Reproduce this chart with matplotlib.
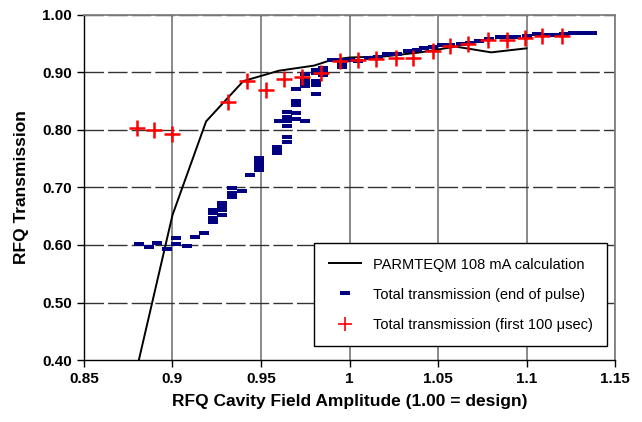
import matplotlib.pyplot as plt
import numpy as np

plt.rcParams['font.family'] = ['Liberation Sans', 'DejaVu Sans']

# PARMTEQM calculation curve
calc_x = [0.881, 0.90, 0.919, 0.94, 0.96, 0.98, 0.99, 1.0, 1.02, 1.04, 1.06, 1.08, 1.10]
calc_y = [0.40, 0.652, 0.815, 0.885, 0.903, 0.912, 0.922, 0.926, 0.928, 0.935, 0.945, 0.935, 0.942]

# Total transmission (end of pulse)
end_x = [0.881, 0.887, 0.891, 0.897, 0.902, 0.902, 0.908, 0.913, 0.918,
         0.923, 0.923, 0.923, 0.923, 0.928, 0.928, 0.928, 0.928,
         0.9335, 0.9335, 0.9335, 0.939, 0.944, 0.949, 0.949, 0.949, 0.949,
         0.959, 0.959, 0.959, 0.960, 0.9645, 0.9645, 0.9645, 0.9645, 0.9645, 0.9645,
         0.970, 0.970, 0.970, 0.970, 0.970, 0.975, 0.975, 0.975, 0.975, 0.975,
         0.981, 0.981, 0.981, 0.981, 0.981, 0.985, 0.985, 0.985,
         0.990, 0.996, 0.996, 0.996, 1.000, 1.005, 1.011, 1.016, 1.021, 1.027,
         1.033, 1.038, 1.042, 1.047, 1.052, 1.057, 1.063, 1.068, 1.073, 1.079,
         1.085, 1.090, 1.094, 1.100, 1.106, 1.111, 1.116, 1.121, 1.126, 1.132, 1.137]
end_y = [0.602, 0.597, 0.603, 0.593, 0.602, 0.612, 0.598, 0.614, 0.621,
         0.640, 0.647, 0.655, 0.660, 0.652, 0.660, 0.667, 0.673,
         0.683, 0.690, 0.699, 0.694, 0.722, 0.730, 0.737, 0.745, 0.752,
         0.760, 0.765, 0.770, 0.816, 0.779, 0.787, 0.807, 0.815, 0.823, 0.831,
         0.819, 0.830, 0.844, 0.850, 0.871, 0.816, 0.876, 0.882, 0.887, 0.897,
         0.862, 0.878, 0.885, 0.899, 0.904, 0.896, 0.902, 0.908,
         0.922, 0.910, 0.916, 0.922, 0.922, 0.920, 0.925, 0.927, 0.932, 0.933,
         0.937, 0.939, 0.942, 0.945, 0.948, 0.948, 0.950, 0.952, 0.955, 0.958,
         0.962, 0.962, 0.962, 0.964, 0.967, 0.966, 0.965, 0.967, 0.968, 0.968, 0.968]

# Total transmission (first 100 usec)
first_x = [0.880, 0.8895, 0.900, 0.9313, 0.942, 0.9527, 0.963, 0.973, 0.984,
           0.9945, 1.0046, 1.015, 1.026, 1.036, 1.047, 1.057, 1.067, 1.078,
           1.089, 1.099, 1.109, 1.120]
first_y = [0.803, 0.800, 0.793, 0.849, 0.885, 0.870, 0.889, 0.892, 0.899,
           0.920, 0.922, 0.923, 0.925, 0.925, 0.937, 0.946, 0.950, 0.957,
           0.957, 0.960, 0.963, 0.963]

x_ticks = [0.85, 0.9, 0.95, 1.0, 1.05, 1.1, 1.15]
x_labels = ['0.85', '0.9', '0.95', '1', '1.05', '1.1', '1.15']
y_ticks = [0.4, 0.5, 0.6, 0.7, 0.8, 0.9, 1.0]

fig = plt.figure(figsize=(6.42, 4.22), dpi=100)
ax = fig.add_axes([0.1308, 0.1469, 0.8272, 0.8176])

# short dash marker, like the original spreadsheet symbol
dash = [(-1, -0.42), (1, -0.42), (1, 0.42), (-1, 0.42), (-1, -0.42)]

ax.plot(calc_x, calc_y, color='black', lw=1.4, label='PARMTEQM 108 mA calculation', zorder=3)
ax.plot(end_x, end_y, ls='none', marker=dash, ms=7, mew=0, color='#000080',
        label='Total transmission (end of pulse)', zorder=4)
ax.plot(first_x, first_y, ls='none', marker='+', ms=12, mew=1.8, color='#ff0000',
        label='Total transmission (first 100 \u03bcsec)', zorder=5)

ax.set_xlim(0.85, 1.15)
ax.set_ylim(0.40, 1.00)
ax.set_xticks(x_ticks)
ax.set_xticklabels(x_labels)
ax.set_yticks(y_ticks)
ax.set_yticklabels(['%.2f' % v for v in y_ticks])

for v in x_ticks[1:]:
    ax.axvline(v, color='#808080', lw=1.3, zorder=1)
for v in y_ticks[1:]:
    ax.axhline(v, color='#333333', lw=1.0, dashes=(14, 3), zorder=1)

for s in ['top', 'right']:
    ax.spines[s].set_color('#808080')
    ax.spines[s].set_linewidth(1.3)
for s in ['left', 'bottom']:
    ax.spines[s].set_color('black')
    ax.spines[s].set_linewidth(1.0)

ax.tick_params(direction='out', length=5, width=1, labelsize=11)
for lab in ax.get_xticklabels() + ax.get_yticklabels():
    lab.set_fontweight('bold')

ax.set_xlabel('RFQ Cavity Field Amplitude (1.00 = design)', fontsize=12.5, fontweight='bold', labelpad=6)
ax.set_ylabel('RFQ Transmission', fontsize=12.5, fontweight='bold', labelpad=10)

leg = ax.legend(loc='lower right', bbox_to_anchor=(0.985, 0.04), fontsize=10.5, frameon=True,
                fancybox=False, edgecolor='black', framealpha=1, borderpad=1.0,
                labelspacing=1.1, handlelength=2.2, borderaxespad=0)
leg.get_frame().set_linewidth(1.0)
leg.legend_handles[2].set_markersize(10)
leg.legend_handles[2].set_markeredgewidth(1.2)

fig.savefig('out.png', dpi=100)
